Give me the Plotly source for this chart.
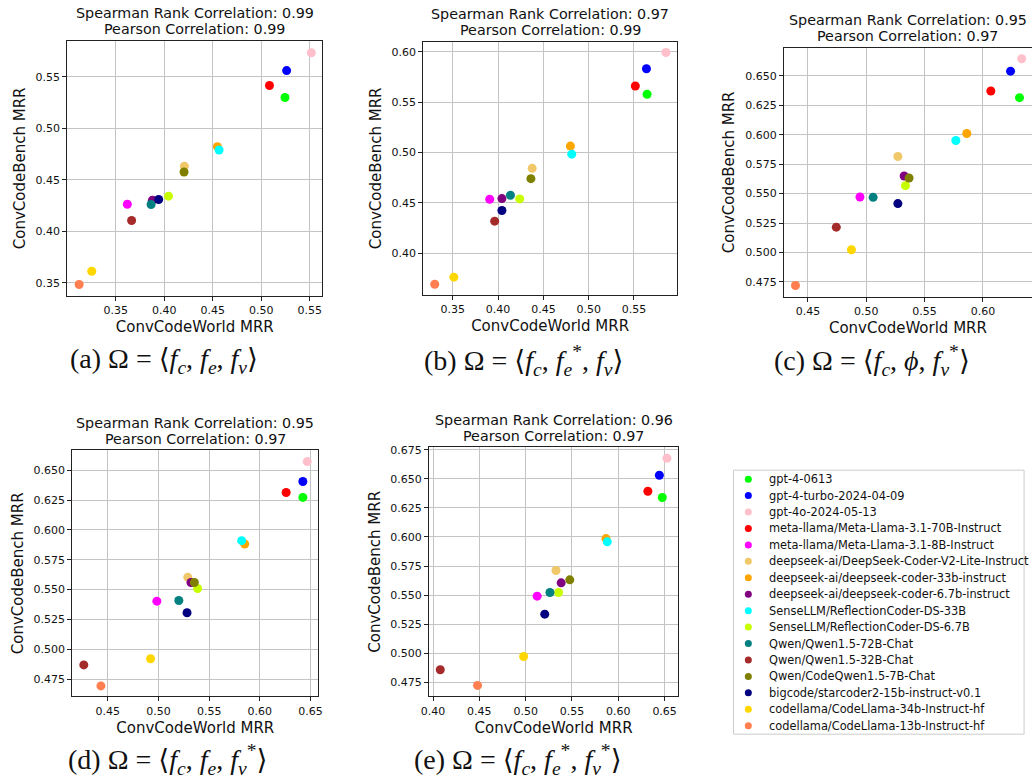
import plotly.graph_objects as go

# Models and their marker colours
models = [
    "gpt-4-0613",
    "gpt-4-turbo-2024-04-09",
    "gpt-4o-2024-05-13",
    "meta-llama/Meta-Llama-3.1-70B-Instruct",
    "meta-llama/Meta-Llama-3.1-8B-Instruct",
    "deepseek-ai/DeepSeek-Coder-V2-Lite-Instruct",
    "deepseek-ai/deepseek-coder-33b-instruct",
    "deepseek-ai/deepseek-coder-6.7b-instruct",
    "SenseLLM/ReflectionCoder-DS-33B",
    "SenseLLM/ReflectionCoder-DS-6.7B",
    "Qwen/Qwen1.5-72B-Chat",
    "Qwen/Qwen1.5-32B-Chat",
    "Qwen/CodeQwen1.5-7B-Chat",
    "bigcode/starcoder2-15b-instruct-v0.1",
    "codellama/CodeLlama-34b-Instruct-hf",
    "codellama/CodeLlama-13b-Instruct-hf",
]
colors = [
    "#00ff00", "#0000ff", "#ffc0cb", "#ff0000", "#ff00ff", "#f0c86a",
    "#ffa500", "#800080", "#00ffff", "#c8ff00", "#008080", "#a52a2a",
    "#808000", "#000080", "#ffd700", "#ff7f50",
]

# ConvCodeWorld MRR (x) and ConvCodeBench MRR (y) per feedback setting
world_a = [0.5245, 0.5262, 0.5517, 0.5085, 0.3619, 0.4207, 0.4548, 0.3878,
           0.4565, 0.4044, 0.3864, 0.3663, 0.4204, 0.3942, 0.3252, 0.3122]
bench_a = [0.5300, 0.5561, 0.5735, 0.5416, 0.4264, 0.4632, 0.4823, 0.4303,
           0.4790, 0.4342, 0.4261, 0.4106, 0.4577, 0.4310, 0.3613, 0.3484]

world_b = [0.5645, 0.5638, 0.5853, 0.5515, 0.3907, 0.4376, 0.4798, 0.4042,
           0.4813, 0.4238, 0.4136, 0.3962, 0.4362, 0.4042, 0.3511, 0.3300]
bench_b = [0.5578, 0.5832, 0.5993, 0.5660, 0.4535, 0.4842, 0.5063, 0.4541,
           0.4983, 0.4538, 0.4574, 0.4317, 0.4739, 0.4423, 0.3760, 0.3690]

world_c = [0.6314, 0.6237, 0.6333, 0.6068, 0.4946, 0.5271, 0.5862, 0.5325,
           0.5768, 0.5336, 0.5059, 0.4743, 0.5367, 0.5271, 0.4873, 0.4393]
bench_c = [0.6314, 0.6539, 0.6644, 0.6370, 0.5471, 0.5815, 0.6010, 0.5649,
           0.5950, 0.5567, 0.5468, 0.5215, 0.5632, 0.5415, 0.5023, 0.4719]

world_d = [0.6425, 0.6425, 0.6468, 0.6260, 0.4984, 0.5289, 0.5851, 0.5321,
           0.5821, 0.5386, 0.5201, 0.4263, 0.5354, 0.5282, 0.4922, 0.4432]
bench_d = [0.6272, 0.6405, 0.6572, 0.6313, 0.5403, 0.5604, 0.5882, 0.5559,
           0.5910, 0.5509, 0.5409, 0.4869, 0.5559, 0.5306, 0.4921, 0.4693]

world_e = [0.6475, 0.6443, 0.6525, 0.6319, 0.5124, 0.5327, 0.5867, 0.5383,
           0.5881, 0.5355, 0.5262, 0.4078, 0.5476, 0.5206, 0.4978, 0.4480]
bench_e = [0.6340, 0.6532, 0.6678, 0.6394, 0.5490, 0.5711, 0.5986, 0.5605,
           0.5958, 0.5522, 0.5522, 0.4856, 0.5631, 0.5335, 0.4970, 0.4721]

spearman = ["0.99", "0.97", "0.95", "0.95", "0.96"]
pearson = ["0.99", "0.99", "0.97", "0.97", "0.97"]

f = "<i>f</i>"
fc = f + "<sub><i>c</i></sub>"
fe = f + "<sub><i>e</i></sub>"
fv = f + "<sub><i>v</i></sub>"
fe_s = f + "<sub><i>e</i></sub><sup>*</sup>"
fv_s = f + "<sub><i>v</i></sub><sup>*</sup>"
captions = [
    f"(a) Ω = ⟨{fc}, {fe}, {fv}⟩",
    f"(b) Ω = ⟨{fc}, {fe_s}, {fv}⟩",
    f"(c) Ω = ⟨{fc}, <i>ϕ</i>, {fv_s}⟩",
    f"(d) Ω = ⟨{fc}, {fe}, {fv_s}⟩",
    f"(e) Ω = ⟨{fc}, {fe_s}, {fv_s}⟩",
]

W, H = 1036, 780

# Panel layout in pixels: (left, right, top, bottom), axis ranges and ticks
panels = [
    dict(x=world_a, y=bench_a, box=(60, 318, 38, 294),
         xr=[0.300, 0.563], yr=[0.3374, 0.585],
         xt=[0.35, 0.40, 0.45, 0.50, 0.55], yt=[0.35, 0.40, 0.45, 0.50, 0.55],
         xf=".2f", yf=".2f", cap=(158, 359), right_line=True),
    dict(x=world_b, y=bench_b, box=(420, 677, 39, 293),
         xr=[0.3172, 0.5977], yr=[0.3584, 0.6099],
         xt=[0.35, 0.40, 0.45, 0.50, 0.55], yt=[0.40, 0.45, 0.50, 0.55, 0.60],
         xf=".2f", yf=".2f", cap=(522, 359), right_line=True),
    dict(x=world_c, y=bench_c, box=(785, 1036, 45, 295),
         xr=[0.4294, 0.6421], yr=[0.4623, 0.6737],
         xt=[0.45, 0.50, 0.55, 0.60],
         yt=[0.475, 0.500, 0.525, 0.550, 0.575, 0.600, 0.625, 0.650],
         xf=".2f", yf=".3f", cap=(874, 359), right_line=False),
    dict(x=world_d, y=bench_d, box=(65, 314, 449, 696),
         xr=[0.4149, 0.6578], yr=[0.4606, 0.6667],
         xt=[0.45, 0.50, 0.55, 0.60, 0.65],
         yt=[0.475, 0.500, 0.525, 0.550, 0.575, 0.600, 0.625, 0.650],
         xf=".2f", yf=".3f", cap=(161, 759), right_line=True),
    dict(x=world_e, y=bench_e, box=(426, 678, 446, 696),
         xr=[0.3957, 0.6646], yr=[0.4627, 0.6773],
         xt=[0.40, 0.45, 0.50, 0.55, 0.60, 0.65],
         yt=[0.475, 0.500, 0.525, 0.550, 0.575, 0.600, 0.625, 0.650, 0.675],
         xf=".2f", yf=".3f", cap=(516, 759), right_line=True),
]

SANS = '"DejaVu Sans", sans-serif'
SERIF = '"Liberation Serif", "DejaVu Serif", serif'
INK = "#111111"

fig = go.Figure()
annotations = []
shapes = []

for i, p in enumerate(panels):
    n = "" if i == 0 else str(i + 1)
    l, r, t, b = p["box"]
    xdom = [l / W, r / W]
    ydom = [1 - b / H, 1 - t / H]
    for k, name in enumerate(models):
        fig.add_trace(go.Scatter(
            x=[p["x"][k]], y=[p["y"][k]], mode="markers", name=name,
            showlegend=False,
            marker=dict(color=colors[k], size=9, line=dict(width=0)),
            xaxis="x" + n, yaxis="y" + n,
        ))
    axis_common = dict(
        showgrid=True, gridcolor="#c4c4c4", gridwidth=1,
        showline=True, linecolor="#222222", linewidth=1,
        ticks="outside", ticklen=4, tickcolor="#222222", tickwidth=1,
        tickfont=dict(family=SANS, size=11, color=INK),
        zeroline=False,
    )
    fig.layout["xaxis" + n] = dict(
        axis_common, domain=xdom, range=p["xr"], tickvals=p["xt"],
        tickformat=p["xf"], anchor="y" + n, mirror=True,
        title=dict(text="ConvCodeWorld MRR", font=dict(family=SANS, size=15, color=INK),
                   standoff=5),
    )
    fig.layout["yaxis" + n] = dict(
        axis_common, domain=ydom, range=p["yr"], tickvals=p["yt"],
        tickformat=p["yf"], anchor="x" + n,
        mirror=True if p["right_line"] else False,
        title=dict(text="ConvCodeBench MRR", font=dict(family=SANS, size=15, color=INK),
                   standoff=6),
    )
    cx = (l + r) / 2 / W
    annotations.append(dict(
        text=f"Spearman Rank Correlation: {spearman[i]}", xref="paper", yref="paper",
        x=cx, y=1 - (t - 27.5) / H, xanchor="center", yanchor="middle", showarrow=False,
        font=dict(family=SANS, size=14.3, color=INK)))
    annotations.append(dict(
        text=f"Pearson Correlation: {pearson[i]}", xref="paper", yref="paper",
        x=cx, y=1 - (t - 11.5) / H, xanchor="center", yanchor="middle", showarrow=False,
        font=dict(family=SANS, size=14.3, color=INK)))
    capx, capy = p["cap"]
    annotations.append(dict(
        text=captions[i], xref="paper", yref="paper",
        x=capx / W, y=1 - capy / H, xanchor="center", yanchor="middle", showarrow=False,
        font=dict(family=SERIF, size=28, color=INK)))

# Legend panel: one row per model, drawn on its own hidden axes
LEG_L, LEG_R, LEG_T, LEG_B = 734, 1028, 469, 734
rows = list(range(len(models)))
fig.add_trace(go.Scatter(
    x=[0.051] * len(models), y=rows, mode="markers", showlegend=False,
    marker=dict(color=colors, size=7, line=dict(width=0)),
    xaxis="x6", yaxis="y6", hoverinfo="skip",
))
for k, name in enumerate(models):
    annotations.append(dict(
        text=name, xref="x6", yref="y6", x=0.117, y=k,
        xanchor="left", yanchor="middle", showarrow=False,
        font=dict(family=SANS, size=11.4, color=INK)))
fig.layout["xaxis6"] = dict(domain=[LEG_L / W, LEG_R / W], range=[0, 1],
                            visible=False, fixedrange=True, anchor="y6")
fig.layout["yaxis6"] = dict(domain=[1 - LEG_B / H, 1 - LEG_T / H],
                            range=[15.515, -0.545], visible=False,
                            fixedrange=True, anchor="x6")
shapes.append(dict(type="rect", xref="x6 domain", yref="y6 domain",
                   x0=0, x1=1, y0=0, y1=1,
                   line=dict(color="#cccccc", width=1), layer="below"))

fig.update_layout(
    width=W, height=H,
    margin=dict(l=0, r=0, t=0, b=0),
    paper_bgcolor="white", plot_bgcolor="white",
    font=dict(family=SANS),
    annotations=annotations, shapes=shapes,
    showlegend=False,
)

fig.write_html("out.html")
